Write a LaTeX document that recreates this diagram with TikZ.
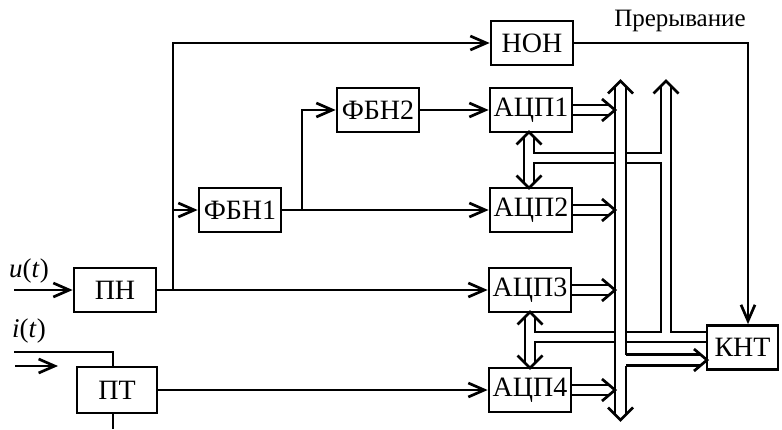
\documentclass[tikz,border=0pt]{standalone}
\usepackage{fontspec}
\setmainfont{Liberation Serif}
\usetikzlibrary{arrows.meta,calc}
\begin{document}
\begin{tikzpicture}[x=0.5pt,y=-0.5pt,
  wire/.style={line width=1.35pt,line join=miter},
  blk/.style={draw,line width=1.35pt,minimum width=41pt,minimum height=22pt,inner sep=0pt,
    font=\fontsize{14}{15}\selectfont,fill=white},
  sarr/.style={wire,-{Straight Barb[length=8pt,width=7pt]}},
  lbl/.style={inner sep=0pt,font=\fontsize{13.5}{14}\selectfont}]
\useasboundingbox (0,0) rectangle (782,429);

% blocks
\node[blk] (PN) at (115,290) {ПН};
\node[blk,minimum width=40pt,minimum height=23pt] (PT) at (117,390) {ПТ};
\node[blk] (F1) at (240,210) {ФБН1};
\node[blk] (F2) at (378,110) {ФБН2};
\node[blk] (NON) at (532,43) {НОН};
\node[blk] (A1) at (531,110) {АЦП1};
\node[blk] (A2) at (531,210) {АЦП2};
\node[blk] (A3) at (530,290) {АЦП3};
\node[blk] (A4) at (530,390) {АЦП4};
\node[blk,minimum width=35.5pt] (KNT) at (742.5,347.5) {КНТ};

% labels
\node[lbl] (ul) at (29,271) {\textit{u}(\textit{t})};
\node[lbl] (il) at (29,331) {\textit{i}(\textit{t})};
\node[lbl,font=\fontsize{12.5}{13}\selectfont] (intr) at (680,21) {Прерывание};

% inputs
\coordinate (uin) at (14,290);
\draw[sarr] (uin) -- (PN.west);
\coordinate (iin) at (14,352);
\coordinate (ic) at (113,352);
\coordinate (ibot) at (113,429);
\draw[wire] (iin) -- (ic) -- (ic |- PT.north);
\draw[wire] (ic |- PT.south) -- (ibot);
\coordinate (iaS) at (15,366);
\coordinate (iaE) at (58,366);
\draw[sarr] (iaS) -- (iaE);

% signal paths
\coordinate (J) at (173,290);
\draw[sarr] (PN.east) -- (A3.west);
\draw[sarr] (J) |- (NON.west);
\draw[sarr] (J |- F1.west) -- (F1.west);
\coordinate (B) at (302,210);
\draw[sarr] (F1.east) -- (A2.west);
\draw[sarr] (B) |- (F2.west);
\draw[sarr] (F2.east) -- (A1.west);
\draw[sarr] (PT.east) -- (A4.west);
\coordinate (K) at (748,0);
\draw[sarr] (NON.east) -| (K |- KNT.north);

% main bus
\draw[wire] (615,86.3) -- (615,414.7);
\draw[wire] (626,86.3) -- (626,354.5);
\draw[wire] (626,365.5) -- (626,414.7);
\draw[wire] (608,93.5) -- (620.5,81) -- (633,93.5);
\draw[wire] (608,407.5) -- (620.5,420) -- (633,407.5);

% right bus
\draw[wire] (653.5,93.5) -- (666,81) -- (678.5,93.5);
\draw[wire] (661,86.3) -- (661,153) -- (626,153);
\draw[wire] (626,163) -- (661,163) -- (661,332) -- (626,332);
\draw[wire] (671,86.3) -- (671,332) -- (KNT.west |- 0,332);
\draw[wire] (626,342) -- (KNT.west |- 0,342);

% ADC to bus double arrows
\foreach \yy/\xs in {110/572,210/572,290/571,390/571}{
  \draw[wire] (\xs,\yy-5) -- (609.1,\yy-5);
  \draw[wire] (\xs,\yy+5) -- (609.1,\yy+5);
  \draw[wire] (602,\yy-11) -- (615,\yy) -- (602,\yy+11);
}
% bus to KNT
\draw[wire] (626,354.5) -- (701,354.5);
\draw[wire] (626,365.5) -- (701,365.5);
\draw[wire] (694,349) -- (707,360) -- (694,371);

% A1 <-> A2
\draw[wire] (524,136.8) -- (524,183.2);
\draw[wire] (534,136.8) -- (534,153) -- (615,153);
\draw[wire] (615,163) -- (534,163) -- (534,183.2);
\draw[wire] (516.5,144.5) -- (529,132) -- (541.5,144.5);
\draw[wire] (516.5,175.5) -- (529,188) -- (541.5,175.5);

% A3 <-> A4
\draw[wire] (525,316.8) -- (525,362.2);
\draw[wire] (535,316.8) -- (535,332) -- (615,332);
\draw[wire] (615,342) -- (535,342) -- (535,362.2);
\draw[wire] (517.5,324.5) -- (530,312) -- (542.5,324.5);
\draw[wire] (517.5,355.5) -- (530,368) -- (542.5,355.5);
\end{tikzpicture}
\end{document}
